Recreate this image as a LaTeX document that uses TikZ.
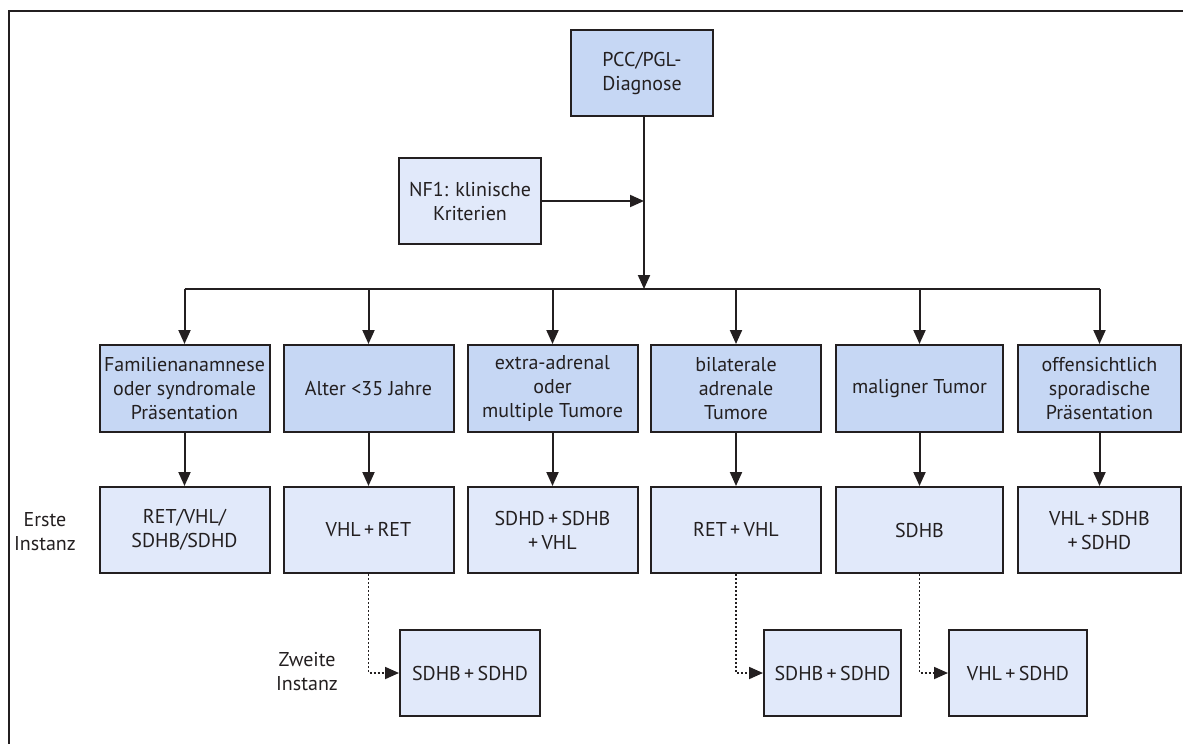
\documentclass[tikz,border=0pt]{standalone}
\usepackage{fontspec}
\setmainfont{PT Sans}
\usetikzlibrary{arrows.meta}
\definecolor{boxdark}{HTML}{C6D7F4}
\definecolor{boxlight}{HTML}{E1E9FA}
\definecolor{linec}{HTML}{231F20}
\tikzset{
  basebox/.style={draw=linec, line width=2pt, align=center, inner sep=1pt,
    font=\fontsize{20}{24}\selectfont, text=linec},
  darkbox/.style={basebox, fill=boxdark, minimum width=170pt, minimum height=87pt},
  lightbox/.style={basebox, fill=boxlight, minimum width=170pt, minimum height=86pt},
  smallbox/.style={basebox, fill=boxlight, minimum width=140pt, minimum height=86pt},
  conn/.style={draw=linec, line width=2pt, -{Triangle[length=14pt,width=12pt]}},
  dotconn/.style={draw=linec, line width=1.8pt, dash pattern=on 2pt off 2pt, -{Triangle[length=14pt,width=12pt]}},
  plain/.style={draw=linec, line width=2pt},
  lbl/.style={align=center, font=\fontsize{20}{24}\selectfont, text=linec}
}
\begin{document}
\begin{tikzpicture}[x=1pt,y=-1pt]
\useasboundingbox (0,0) rectangle (1183,744);
\draw[linec, line width=2.4pt] (9,744) -- (9,11) -- (1183,11);

\node[darkbox, minimum width=142pt, minimum height=86pt] (pcc) at (642,73) {PCC/PGL-\\Diagnose};
\node[lightbox, minimum width=142pt, minimum height=86pt] (nf1) at (470,201) {NF1: klinische\\Kriterien};

\coordinate (bus) at (644,289);

\node[darkbox] (a1) at (184.5,388.5) {Familienanamnese\\oder syndromale\\Präsentation};
\node[darkbox] (a2) at (368.5,388.5) {Alter <35 Jahre};
\node[darkbox] (a3) at (552.5,388.5) {extra-adrenal\\oder\\multiple Tumore};
\node[darkbox] (a4) at (736,388.5) {bilaterale\\adrenale\\Tumore};
\node[darkbox, minimum width=167pt] (a5) at (919.5,388.5) {maligner Tumor};
\node[darkbox, minimum width=163pt] (a6) at (1099.5,388.5) {offensichtlich\\sporadische\\Präsentation};

\node[lightbox] (b1) at (184.5,530) {RET/VHL/\\SDHB/SDHD};
\node[lightbox] (b2) at (368.5,530) {VHL\,+\,RET};
\node[lightbox] (b3) at (552.5,530) {SDHD\,+\,SDHB\\+\,VHL};
\node[lightbox] (b4) at (736,530) {RET\,+\,VHL};
\node[lightbox, minimum width=167pt] (b5) at (919.5,530) {SDHB};
\node[lightbox, minimum width=163pt] (b6) at (1099.5,530) {VHL\,+\,SDHB\\+\,SDHD};

\node[smallbox] (c2) at (470,673) {SDHB\,+\,SDHD};
\node[smallbox, minimum width=137pt] (c4) at (832.5,673) {SDHB\,+\,SDHD};
\node[smallbox, minimum width=138pt] (c5) at (1018,673) {VHL\,+\,SDHD};

\node[lbl] (erste) at (45,532) {Erste\\Instanz};
\node[lbl] (zweite) at (307,672) {Zweite\\Instanz};

% main trunk
\draw[conn] (pcc.south -| bus) -- (bus);
\draw[conn] (nf1.east) -- (nf1.east -| bus);
\draw[plain] (bus -| a1.north) -- (bus -| a6.north);
\foreach \n in {a1,a2,a3,a4,a5,a6}{
  \draw[conn] (bus -| \n.north) -- (\n.north);
}
\draw[conn] (a1) -- (b1);
\draw[conn] (a2) -- (b2);
\draw[conn] (a3) -- (b3);
\draw[conn] (a4) -- (b4);
\draw[conn] (a5) -- (b5);
\draw[conn] (a6) -- (b6);

\draw[dotconn] (b2.south) |- (c2.west);
\draw[dotconn] (b4.south) |- (c4.west);
\draw[dotconn] (b5.south) |- (c5.west);
\end{tikzpicture}
\end{document}
